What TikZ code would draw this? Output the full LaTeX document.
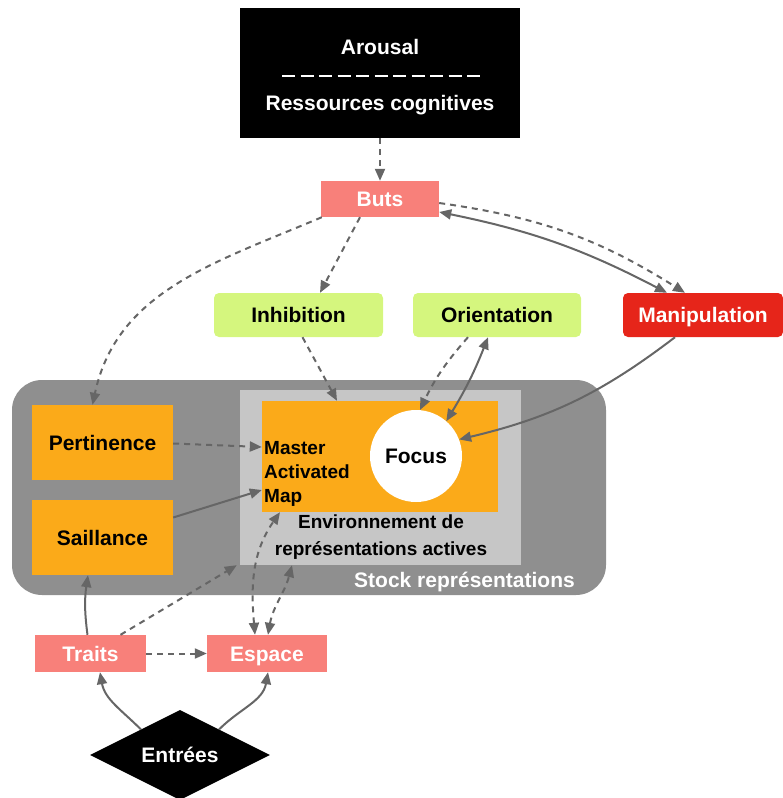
\documentclass[tikz,border=0pt]{standalone}
\usepackage{fontspec}
\setmainfont{Liberation Sans}
\usetikzlibrary{arrows.meta,shapes.geometric}
\definecolor{salmon}{HTML}{F8807A}
\definecolor{lgreen}{HTML}{D5F67E}
\definecolor{mred}{HTML}{E6251A}
\definecolor{morange}{HTML}{FBAA19}
\definecolor{stockgrey}{HTML}{8F8F8F}
\definecolor{envgrey}{HTML}{C6C6C6}
\definecolor{arrgrey}{HTML}{666666}
\tikzset{
  box/.style={draw=none, inner sep=0pt, text height=15pt, text depth=0pt, font=\bfseries\fontsize{21}{25}\selectfont},
  smalltxt/.style={inner sep=0pt, font=\bfseries\fontsize{19}{24}\selectfont},
  tip/.tip={Triangle[length=12pt,width=10pt]},
  conn/.style={draw=arrgrey, line width=2pt, -tip},
  dconn/.style={conn, dash pattern=on 6pt off 5pt},
}
\begin{document}
\begin{tikzpicture}[x=1pt,y=1pt]
\useasboundingbox (0,0) rectangle (783,-798);

% top black box
\node[box, fill=black, minimum width=280pt, minimum height=130pt] (arousal) at (380,-73) {};
\node[box, text=white] (arT) at (380,-47) {Arousal};
\node[box, text=white] (resT) at (380,-103) {Ressources cognitives};
\coordinate (dA) at (282,-76);
\coordinate (dB) at (480,-76);
\draw[white, line width=2.5pt, dash pattern=on 13pt off 5.5pt] (dA) -- (dB);

% goals row
\node[box, fill=salmon, text=white, minimum width=118pt, minimum height=36pt] (buts) at (380,-199) {Buts};
\node[box, fill=lgreen, rounded corners=5pt, minimum width=169pt, minimum height=44pt] (inhib) at (298.5,-315) {Inhibition};
\node[box, fill=lgreen, rounded corners=5pt, minimum width=168pt, minimum height=44pt] (orient) at (497,-315) {Orientation};
\node[box, fill=mred, text=white, rounded corners=5pt, minimum width=160pt, minimum height=44pt] (manip) at (703,-315) {Manipulation};

% stock
\node[box, fill=stockgrey, rounded corners=30pt, minimum width=594pt, minimum height=215pt] (stock) at (309,-487.5) {};
\node[box, text=white, anchor=east] (stockT) at (575,-580) {Stock représentations};
\node[box, fill=envgrey, minimum width=281pt, minimum height=175pt] (env) at (380.5,-477.5) {};
\node[box, fill=morange, minimum width=236pt, minimum height=111pt] (master) at (380,-456.5) {};
\node[smalltxt, align=left, anchor=west] (masterT) at (264,-474) {Master\\Activated\\Map};
\node[smalltxt, align=center, font=\bfseries\fontsize{19}{27}\selectfont] (envT) at (381,-537) {Environnement de\\représentations actives};
\node[box, circle, fill=white, minimum size=92pt] (focus) at (416,-456) {Focus};
\node[box, fill=morange, minimum width=141pt, minimum height=75pt] (pert) at (102.5,-442.5) {Pertinence};
\node[box, fill=morange, minimum width=141pt, minimum height=75pt] (sail) at (102.5,-537.5) {Saillance};

% bottom
\node[box, fill=salmon, text=white, minimum width=111pt, minimum height=37pt] (traits) at (90.5,-653.5) {Traits};
\node[box, fill=salmon, text=white, minimum width=120pt, minimum height=37pt] (espace) at (267,-653.5) {Espace};
\node[box, diamond, aspect=2, fill=black, text=white, minimum width=180pt, minimum height=90pt] (entrees) at (180,-755) {Entrées};

% connectors
\draw[dconn] (arousal.south) -- (buts.north);
\draw[dconn] ([xshift=1pt]buts.south west) to[out=203,in=78] ([xshift=-10pt]pert.north);
\draw[dconn] ([xshift=-20pt]buts.south) -- ([xshift=21.5pt]inhib.north);
\draw[dconn] ([xshift=4pt]inhib.south) -- ([xshift=-43pt]master.north);
\draw[dconn] ([yshift=-4pt]buts.east) to[bend left=12] ([xshift=-18pt]manip.north);
\draw[conn, tip-tip] ([yshift=-13pt]buts.east) to[bend left=8] ([xshift=-36pt]manip.north);
\draw[dconn] ([xshift=-29pt]orient.south) to[bend right=8] (focus.85);
\draw[conn, tip-tip] ([xshift=-9pt]orient.south) to[bend left=5] (focus.49);
\draw[conn] ([xshift=-28pt]manip.south) to[bend left=12] (focus.21);
\draw[dconn] ([yshift=-1pt]pert.east) -- ([yshift=9.5pt]master.west);
\draw[conn] ([yshift=20pt]sail.east) -- ([yshift=-33.5pt]master.west);
\draw[conn] ([xshift=-3pt]traits.north) to[bend left=8] ([xshift=-14.5pt]sail.south);
\draw[dconn] ([xshift=30pt]traits.north) -- ([xshift=-3pt]env.south west);
\draw[dconn, tip-tip] ([xshift=-12pt]espace.north) to[out=95,in=235] ([xshift=-100pt]master.south);
\draw[dconn, tip-tip] ([xshift=1pt]espace.north) to[out=80,in=255] ([xshift=-88.5pt]env.south);
\draw[dconn] (traits.east) -- (espace.west);
\draw[conn] ([shift={(6pt,3pt)}]entrees.north west) to[out=135,in=-80] ([xshift=9.5pt]traits.south);
\draw[conn] ([shift={(-6pt,3pt)}]entrees.north east) to[out=45,in=-100] ([xshift=1pt]espace.south);
\end{tikzpicture}
\end{document}
